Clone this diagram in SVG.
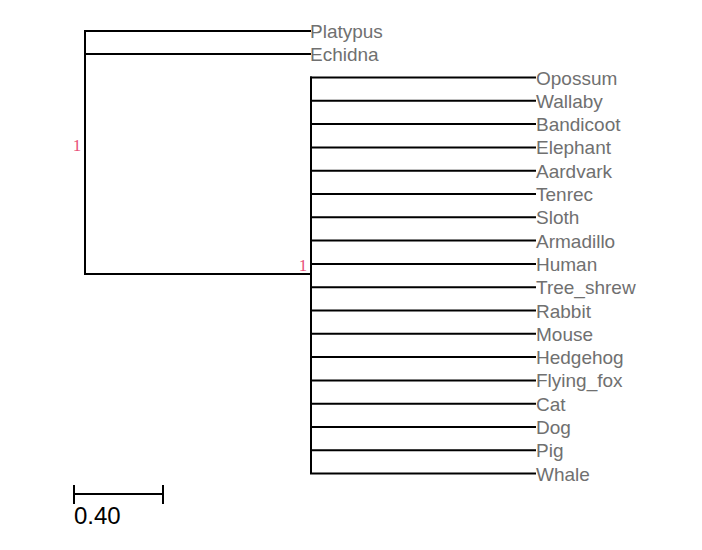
<svg xmlns="http://www.w3.org/2000/svg" width="702" height="550" viewBox="0 0 702 550">
<style>
.e{stroke:#000;stroke-width:2;fill:none;stroke-linecap:square}
.l{font-family:"Liberation Sans",Arial,sans-serif;font-size:19px;fill:#707070}
.s{font-family:"Liberation Serif","Times New Roman",serif;font-size:17px;fill:#e8507a;text-anchor:middle}
.b{font-family:"Liberation Sans",Arial,sans-serif;font-size:24px;fill:#000}
</style>
<rect width="702" height="550" fill="#fff"/>
<g id="connectors">
<path class="e" d="M85,31V274M85,31H310M85,54H310M85,274H311"/>
<path class="e" d="M311,77.5V473"/>
<path class="e" d="M311,77.5H535M311,100.8H535M311,124.1H535M311,147.4H535M311,170.7H535M311,194H535M311,217.3H535M311,240.6H535M311,263.9H535M311,287.2H535M311,310.5H535M311,333.8H535M311,357.1H535M311,380.4H535M311,403.7H535M311,427H535M311,450.3H535M311,473.6H535"/>
</g>
<g id="support">
<text class="s" x="77" y="151">1</text>
<text class="s" x="303" y="271">1</text>
</g>
<g id="leaves">
<text class="l" x="310" y="38">Platypus</text>
<text class="l" x="310" y="61">Echidna</text>
<text class="l" x="536" y="84.5">Opossum</text>
<text class="l" x="536" y="107.8">Wallaby</text>
<text class="l" x="536" y="131.1">Bandicoot</text>
<text class="l" x="536" y="154.4">Elephant</text>
<text class="l" x="536" y="177.7">Aardvark</text>
<text class="l" x="536" y="201">Tenrec</text>
<text class="l" x="536" y="224.3">Sloth</text>
<text class="l" x="536" y="247.6">Armadillo</text>
<text class="l" x="536" y="270.9">Human</text>
<text class="l" x="536" y="294.2">Tree_shrew</text>
<text class="l" x="536" y="317.5">Rabbit</text>
<text class="l" x="536" y="340.8">Mouse</text>
<text class="l" x="536" y="364.1">Hedgehog</text>
<text class="l" x="536" y="387.4">Flying_fox</text>
<text class="l" x="536" y="410.7">Cat</text>
<text class="l" x="536" y="434">Dog</text>
<text class="l" x="536" y="457.3">Pig</text>
<text class="l" x="536" y="480.6">Whale</text>
</g>
<g id="scale">
<path class="e" d="M74,494H163M74,486V503M163,486V503"/>
<text class="b" x="74" y="524">0.40</text>
</g>
</svg>
